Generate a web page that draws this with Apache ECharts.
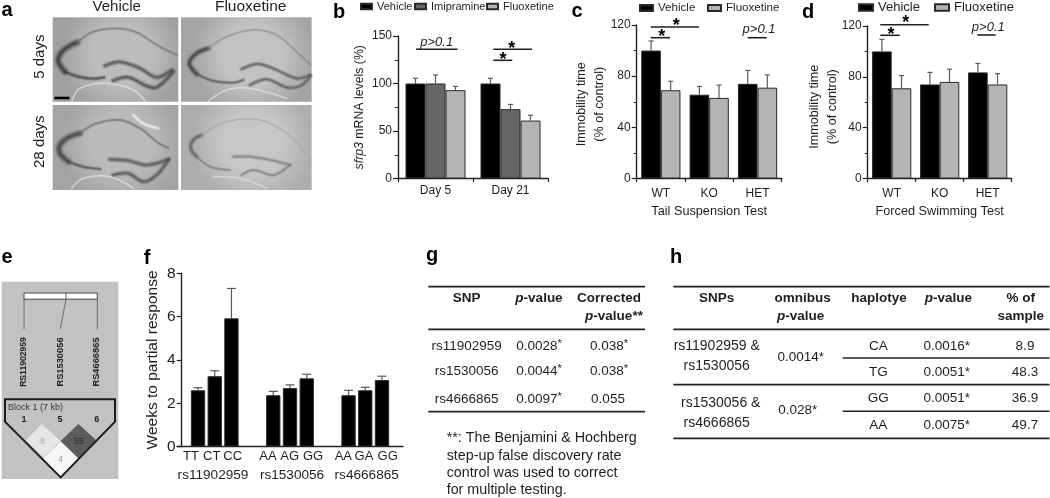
<!DOCTYPE html>
<html><head><meta charset="utf-8">
<style>html,body{margin:0;padding:0;background:#fff}#c{width:1050px;height:498px}</style>
<script src="https://cdn.jsdelivr.net/npm/echarts@6/dist/echarts.min.js"></script>
</head><body><div id="c"></div>
<script>
// ---------- data ----------
const bCats = ['Day 5','Day 21'];
const bVehicle = [100,100], bVehicleErr = [105.5,105.5];
const bImipramine = [100,73], bImipramineErr = [109,78];
const bFluoxetine = [93,61], bFluoxetineErr = [97,66.5];
const genotypeCats = ['WT','KO','HET'];
const cVehicle = [100,65.5,74], cVehicleErr = [107.5,72,84.5];
const cFluoxetine = [69,63,71], cFluoxetineErr = [76,73,81];
const dVehicle = [100,74,83.5], dVehicleErr = [109.5,83.5,90.5];
const dFluoxetine = [71,76,74], dFluoxetineErr = [81,86,82.5];
// panel f: half-step slots, so that the genotype groups stand apart
const fSlots = ['','','TT','','CT','','CC','','','','','AA','','AG','','GG','','','','','AA','','GA','','GG','',''];
const fValues = [2.6,3.25,5.92,2.37,2.7,3.15,2.37,2.6,3.07];
const fErr = [2.72,3.5,7.3,2.55,2.85,3.34,2.6,2.74,3.25];
const fGenotypes = ['TT','CT','CC','AA','AG','GG','AA','GA','GG'];
const fSnps = ['rs11902959','rs1530056','rs4666865'];
const gRows = [['rs11902959','0.0028','0.038',true],['rs1530056','0.0044','0.038',true],['rs4666865','0.0097','0.055',false]];
const gNote = ['**: The Benjamini & Hochberg','step-up false discovery rate','control was used to correct','for multiple testing.'];
const hRows = [['CA','0.0016*','8.9'],['TG','0.0051*','48.3'],['GG','0.0051*','36.9'],['AA','0.0075*','49.7']];
const snpNames = ['RS11902959','RS1530056','RS4666865'];
const ldCells = ['8','4','55'];

// ---------- helpers ----------
const FF = '"Liberation Sans", Arial, sans-serif', INK = '#1e1e1e';
const g = [];
function T(text,x,y,o={}){
  g.push({type:'text',x,y,rotation:o.rot?Math.PI/2:0,silent:true,z:20,style:{text,fill:o.fill||INK,fontFamily:FF,
    fontSize:o.size||13.5,fontWeight:o.bold?'bold':'normal',fontStyle:o.italic?'italic':'normal',
    align:o.align||'center',verticalAlign:'middle',rich:o.rich}});
}
function L(x1,y1,x2,y2,w=1.6,c='#222'){
  g.push({type:'line',silent:true,z:18,shape:{x1,y1,x2,y2},style:{stroke:c,lineWidth:w}});
}
function errSeries(name,xi,yi,vals,errs,idx,n,barW,cap){
  return {type:'custom',name,xAxisIndex:xi,yAxisIndex:yi,silent:true,z:1,clip:false,
    data:errs.map((e,i)=>[i,e,vals[i]]),encode:{x:0,y:[1,2]},
    renderItem(p,api){
      const t=api.coord([api.value(0),api.value(1)]),b=api.coord([api.value(0),api.value(2)]);
      const x=t[0]+(idx-(n-1)/2)*barW, st={stroke:'#5a5a5a',lineWidth:1.2};
      return {type:'group',children:[
        {type:'line',shape:{x1:x,y1:t[1],x2:x,y2:b[1]},style:st},
        {type:'line',shape:{x1:x-cap,y1:t[1],x2:x+cap,y2:t[1]},style:st}]};
    }};
}
function bar(name,xi,yi,data,color,w){
  return {type:'bar',name,xAxisIndex:xi,yAxisIndex:yi,data,barWidth:w,barGap:0,silent:true,z:2,
    itemStyle:{color,borderColor:'#2a2a2a',borderWidth:1}};
}
const axisLine={show:true,lineStyle:{color:'#222',width:1.4}};
const axisTick={show:true,length:3.5,lineStyle:{color:'#222',width:1.2}};
function yAx(gi,max,interval,size,name,nameGap,extra={}){
  return Object.assign({type:'value',gridIndex:gi,min:0,max,interval,name,nameLocation:'middle',nameGap,nameMoveOverlap:false,
    nameTextStyle:{color:INK,fontFamily:FF,fontSize:size.name,lineHeight:18,padding:size.pad||0,rich:{i:{fontStyle:'italic',fontFamily:FF,fontSize:size.name,color:INK}}},
    axisLine,axisTick:{show:true,length:5,lineStyle:{color:'#222',width:1.2}},splitLine:{show:false},
    minorTick:{show:size.minor,splitNumber:2,length:3,lineStyle:{color:'#222',width:1}},minorSplitLine:{show:false},
    axisLabel:{color:INK,fontFamily:FF,fontSize:size.tick,margin:6}},extra);
}
function xAx(gi,data,margin,name,extra={}){
  return Object.assign({type:'category',gridIndex:gi,data,name,nameLocation:'middle',nameGap:26,
    nameTextStyle:{color:INK,fontFamily:FF,fontSize:12.7},axisLine,axisTick,
    axisLabel:{color:INK,fontFamily:FF,fontSize:12,margin,interval:0}},extra);
}

// ---------- panel a (micrograph sketches) ----------
function panel(x0,y0,x1,y1,c1,c2,curves){
  g.push({type:'rect',silent:true,z:5,shape:{x:x0/3,y:y0/3,width:(x1-x0)/3,height:(y1-y0)/3},
    style:{fill:{type:'radial',x:.55,y:.45,r:.72,colorStops:[{offset:0,color:c1},{offset:.5,color:c1},{offset:1,color:c2}]}}});
  curves.forEach(([pts,w,col])=>{
    [[2.2,.16],[1.5,.3],[.8,.55]].forEach(([k,a])=>g.push({type:'polyline',silent:true,z:6,
      shape:{points:pts.map(p=>[p[0]/3,p[1]/3]),smooth:.35},
      style:{stroke:col,lineWidth:w*k,fill:null,lineCap:'round',opacity:a}}));
  });
}
panel(158,52,535,305,'#bcbcbc','#a0a0a0',[
 [[[232,127],[205,140],[182,160],[175,185],[195,215]],4,'#2e2e2e'],
 [[[195,215],[235,230],[275,236],[312,232]],2.2,'#404040'],
 [[[232,127],[275,97],[345,85],[410,97],[470,135],[530,165]],1.6,'#777'],
 [[[315,197],[360,186],[420,205],[470,232],[515,210]],2.8,'#484848'],
 [[[340,242],[385,232],[440,258],[470,262],[520,215]],2.8,'#444'],
 [[[215,305],[240,265],[320,250],[400,270],[435,303]],1,'#eee']]);
panel(543,52,935,305,'#c2c2c2','#a4a4a4',[
 [[[625,145],[590,160],[568,190],[590,222]],3.2,'#333'],
 [[[590,222],[640,243],[700,248],[730,240]],1.9,'#555'],
 [[[625,145],[680,110],[760,90],[830,105],[900,165],[932,195]],1.3,'#8d8d8d'],
 [[[725,207],[775,192],[830,210],[890,235],[930,225]],2.3,'#5a5a5a'],
 [[[750,255],[800,238],[860,262],[900,258],[932,228]],2.3,'#5a5a5a'],
 [[[625,303],[680,270],[750,265],[860,295]],1,'#eaeaea']]);
panel(158,315,535,570,'#bababa','#a3a3a3',[
 [[[240,400],[205,412],[180,435],[180,460],[205,485]],4,'#383838'],
 [[[205,485],[250,500],[300,507]],2,'#4c4c4c'],
 [[[240,400],[285,372],[360,360],[420,385],[470,425],[505,445]],1.6,'#707070'],
 [[[330,478],[385,482],[440,495],[505,478]],2.8,'#505050'],
 [[[340,525],[385,520],[430,545],[470,525],[505,480]],2.8,'#4c4c4c'],
 [[[400,345],[430,370],[475,385]],2,'#fafafa'],
 [[[215,565],[250,535],[330,530],[400,565]],1,'#eee']]);
panel(543,315,935,570,'#c6c6c6','#adadad',[
 [[[605,405],[580,420],[572,445],[590,470]],2.6,'#585858'],
 [[[590,470],[630,500],[690,510]],1.5,'#7c7c7c'],
 [[[605,405],[680,365],[780,360],[860,400],[920,465]],1,'#a6a6a6'],
 [[[700,470],[750,470],[810,480],[870,495]],2.2,'#7c7c7c'],
 [[[725,525],[760,510],[820,525],[870,495]],1.8,'#7c7c7c'],
 [[[640,530],[720,535],[800,565]],1,'#e6e6e6']]);
L(54.5,98,69.5,98,2.6,'#000');
T('Vehicle',116.7,7,{size:15}); T('Fluoxetine',250.7,7,{size:15.5});
T('5 days',40,56.7,{size:15,rot:1}); T('28 days',40,141.7,{size:15,rot:1});

// ---------- panel letters ----------
[['a',7,10],['b',339,12],['c',577,11],['d',808,12],['e',7,257],['f',147,258],['g',432,255],['h',676,257]]
 .forEach(([t,x,y])=>T(t,x,y,{size:20,bold:1,fill:'#000'}));

// ---------- significance marks ----------
function P(x,y,x1,x2,ly){T('p>0.1',x,y,{size:13,italic:1}); L(x1,ly,x2,ly);}
function S(x,y,x1,x2,ly){T('*',x,y,{size:18,bold:1,fill:'#000'}); L(x1,ly,x2,ly);}
P(436.7,42.5,416,457.7,49.3); S(511.7,49,493.3,532,49.3); S(503,60,493.3,512.3,60.3);
P(759,29.5,747.7,766.7,37.7); S(676.3,25.7,650.7,699,27); S(661.7,37,650.7,670,37.7);
P(988.3,27.5,977.3,995.7,35); S(905.7,23.3,880.3,928.7,24.7); S(891,35,880.3,899.7,35.3);

// ---------- panel e ----------
g.push({type:'rect',silent:true,z:5,shape:{x:1.7,y:281.7,width:116.6,height:197.3},style:{fill:'#c2c2c2'}});
g.push({type:'rect',silent:true,z:6,shape:{x:24,y:293,width:73.3,height:6.2},style:{fill:'#fff',stroke:'#444',lineWidth:1}});
L(66,293,66,299.2,.9,'#444');
L(24,299,24,329.3,.9,'#666'); L(97.3,299,97.3,329.3,.9,'#666'); L(66,299,60.3,329.3,.9,'#666');
snpNames.forEach((s,i)=>T(s,[23.3,60,96.7][i],362,{size:i?9.3:8.6,bold:1,rot:1}));
const Z=(a)=>a.map(p=>[p[0]/3,240+p[1]/3]);
[[[[125,552],[182,603],[130,652],[78,600]],'#e6e6e6'],
 [[[182,605],[235,655],[182,712],[130,655]],'#f6f6f6'],
 [[[235,552],[288,600],[235,655],[182,603]],'#5c5c5c']]
 .forEach(([pts,c])=>g.push({type:'polygon',silent:true,z:7,shape:{points:Z(pts)},style:{fill:c}}));
g.push({type:'polygon',silent:true,z:8,shape:{points:Z([[15,478],[345,478],[345,545],[182,712],[15,545]])},style:{fill:null,stroke:'#1c1c1c',lineWidth:2}});
T('Block 1 (7 kb)',8,408,{size:9,align:'left',fill:'#333'});
['1','5','6'].forEach((t,i)=>T(t,[24,60,96.7][i],420,{size:9,bold:1}));
T(ldCells[0],42.7,442,{size:8.5,fill:'#aaa'}); T(ldCells[1],60.7,460,{size:8.5,fill:'#999'}); T(ldCells[2],78.7,442,{size:8.5,fill:'#2c2c2c'});

// ---------- panel f labels ----------
fGenotypes.forEach((t,i)=>T(t,[191,211.7,232.7,268,289.7,313,343.3,364,387.7][i],456.7,{size:13}));
fSnps.forEach((t,i)=>T(t,[213,292,366.7][i],475,{size:13.6}));

// ---------- table g ----------
const bi={i:{fontStyle:'italic',fontWeight:'bold',fontSize:13.5,fontFamily:FF,color:INK},b:{fontWeight:'bold',fontSize:13.5,fontFamily:FF,color:INK}};
const sup={s:{fontSize:11,fontFamily:FF,color:INK,verticalAlign:'top',padding:[0,0,4,0]},n:{fontSize:13.5,fontFamily:FF,color:INK}};
[286.7,329.3,411.7].forEach(y=>L(428.3,y,645,y,1.8));
T('SNP',466.7,298.3,{bold:1}); T('{i|p}{b|-value}',539,298.3,{rich:bi}); T('Corrected',609,298.3,{bold:1}); T('{i|p}{b|-value**}',614,316.7,{rich:bi});
const gY=[346,371,399];
gRows.forEach((r,i)=>{
  T(r[0],466.7,gY[i]);
  T('{n|'+r[1]+'}{s|*}',539,gY[i],{rich:sup});
  T(r[3]?'{n|'+r[2]+'}{s|*}':r[2],r[3]?609:608,gY[i],{rich:sup});
});
gNote.forEach((t,i)=>T(t,446.7,438.3+i*17.4,{align:'left',size:14.3}));

// ---------- table h ----------
[286.7,329.3,384.7,438.3].forEach(y=>L(673.3,y,1049.5,y,1.8));
[358,411.3].forEach(y=>L(842.7,y,1049.5,y,1.6));
T('SNPs',716.7,298.3,{bold:1}); T('omnibus',802.7,298.3,{bold:1}); T('{i|p}{b|-value}',800.7,316.3,{rich:bi});
T('haplotye',879,298.3,{bold:1}); T('{i|p}{b|-value}',948.3,298.3,{rich:bi}); T('% of',1020.7,298.3,{bold:1}); T('sample',1020.7,316.3,{bold:1});
T('rs11902959 &',716.7,345.7,{size:14}); T('rs1530056',716.7,365.7,{size:14}); T('rs1530056 &',720.7,403.3,{size:14}); T('rs4666865',716.7,422.7,{size:14});
T('0.0014*',800.7,357); T('0.028*',797.7,410.3);
const hY=[346,372.7,398.7,425.3];
hRows.forEach((r,i)=>{T(r[0],878.3,hY[i]);T(r[1],946.7,hY[i]);T(r[2],1025,hY[i]);});

// ---------- chart ----------
const sB={tick:12,name:12.3,minor:true}, sC={tick:12,name:12.6,minor:true,pad:[0,5,0,0]}, sD={tick:12,name:12.6,minor:true,pad:[0,9,0,0]}, sF={tick:15.5,name:15.5,minor:false};
const legText=(s)=>({color:INK,fontFamily:FF,fontSize:s});
const leg=(data,left,top,w,h,gap,size)=>({data,left,top,padding:0,icon:'rect',itemWidth:w,itemHeight:h,itemGap:gap,selectedMode:false,textStyle:legText(size)});
const option={
  animation:false,backgroundColor:'#fff',
  grid:[
    {left:398,top:36,width:150,height:142.5},
    {left:636.7,top:25,width:145,height:153.5},
    {left:867.7,top:26,width:144,height:152.5},
    {left:177.1,top:273.3,width:225.8,height:173.3}],
  xAxis:[
    xAx(0,bCats,6,''),
    xAx(1,genotypeCats,9.5,'Tail Suspension Test'),
    xAx(2,genotypeCats,9.5,'Forced Swimming Test'),
    xAx(3,fSlots,6,'',{axisTick:{show:false},axisLabel:{show:false}})],
  yAxis:[
    yAx(0,150,50,sB,'{i|sfrp3} mRNA levels (%)',29),
    yAx(1,120,40,sC,'Immobility time\n(% of control)',28),
    yAx(2,120,40,sD,'Immobility time\n(% of control)',26),
    yAx(3,8,2,sF,'Weeks to partial response',20,{offset:-4.6})],
  legend:[
    leg(['Vehicle'],360,1,11,5.5,0,11), leg(['Imipramine'],414,1,11,5.5,0,11), leg(['Fluoxetine'],486,1,11,5.5,0,11),
    leg(['Vehicle'],639,2,13,6,0,11.6), leg(['Fluoxetine'],707,2,13,6,0,11.6),
    leg(['Vehicle'],858,1,14,6.5,0,13), leg(['Fluoxetine'],934,1,14,6.5,0,13)],
  series:[
    bar('Vehicle',0,0,bVehicle,'#000',20),bar('Imipramine',0,0,bImipramine,'#666',20),bar('Fluoxetine',0,0,bFluoxetine,'#b4b4b4',20),
    errSeries('bE1',0,0,bVehicle,bVehicleErr,0,3,20,2.5),errSeries('bE2',0,0,bImipramine,bImipramineErr,1,3,20,2.5),errSeries('bE3',0,0,bFluoxetine,bFluoxetineErr,2,3,20,2.5),
    bar('Vehicle',1,1,cVehicle,'#000',19.6),bar('Fluoxetine',1,1,cFluoxetine,'#b4b4b4',19.6),
    errSeries('cE1',1,1,cVehicle,cVehicleErr,0,2,19.6,2.5),errSeries('cE2',1,1,cFluoxetine,cFluoxetineErr,1,2,19.6,2.5),
    bar('Vehicle',2,2,dVehicle,'#000',19.6),bar('Fluoxetine',2,2,dFluoxetine,'#b4b4b4',19.6),
    errSeries('dE1',2,2,dVehicle,dVehicleErr,0,2,19.6,2.5),errSeries('dE2',2,2,dFluoxetine,dFluoxetineErr,1,2,19.6,2.5),
    Object.assign(bar('Weeks',3,3,[],'#000',14.3),{data:(()=>{let k=0;return fSlots.map(s=>s?fValues[k++]:null);})()}),
    Object.assign(errSeries('fE',3,3,fValues,fErr,0,1,14.3,4.5),{data:(()=>{let k=0,o=[];fSlots.forEach((s,i)=>{if(s){o.push([i,fErr[k],fValues[k]]);k++;}});return o;})()})
  ],
  graphic:{elements:g}
};
echarts.init(document.getElementById('c'),null,{renderer:'canvas'}).setOption(option);
</script></body></html>
